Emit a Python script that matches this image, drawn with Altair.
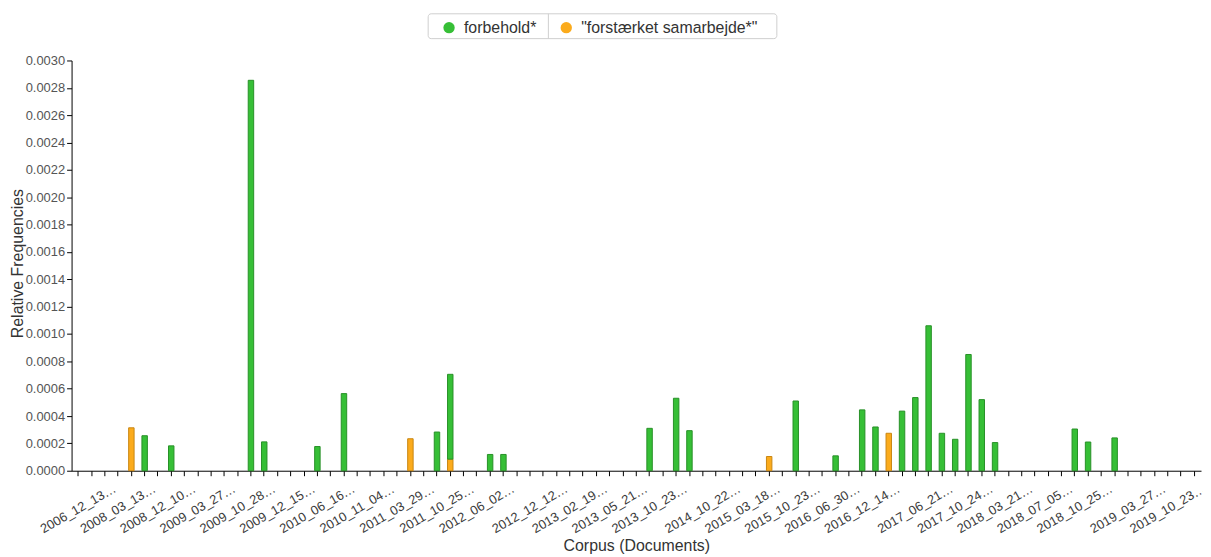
import altair as alt
import pandas as pd

# ---------------- data ----------------
n_docs = 85
doc_ids = list(range(n_docs))

tick_positions = [0, 3, 6, 9, 12, 15, 18, 21, 24, 27, 30, 34, 37, 40, 43,
                  47, 50, 53, 56, 59, 63, 66, 69, 72, 75, 79, 82]
tick_texts = ["2006_12_13…", "2008_03_13…", "2008_12_10…", "2009_03_27…",
              "2009_10_28…", "2009_12_15…", "2010_06_16…", "2010_11_04…",
              "2011_03_29…", "2011_10_25…", "2012_06_02…", "2012_12_12…",
              "2013_02_19…", "2013_05_21…", "2013_10_23…", "2014_10_22…",
              "2015_03_18…", "2015_10_23…", "2016_06_30…", "2016_12_14…",
              "2017_06_21…", "2017_10_24…", "2018_03_21…", "2018_07_05…",
              "2018_10_25…", "2019_03_27…", "2019_10_23…"]

series_names = ["forbehold*", "\"forstærket samarbejde*\""]
fill_colors = ["#36bf36", "#fbab1c"]
stroke_colors = ["#279027", "#c98612"]

forbehold = [
    0, 0, 0, 0, 0, 0.000256, 0, 0.000182, 0, 0,
    0, 0, 0, 0.002855, 0.000211, 0, 0, 0, 0.000177, 0,
    0.000564, 0, 0, 0, 0, 0, 0, 0.000283, 0.00062, 0,
    0, 0.000119, 0.000119, 0, 0, 0, 0, 0, 0, 0,
    0, 0, 0, 0.00031, 0, 0.00053, 0.000293, 0, 0, 0,
    0, 0, 0, 0, 0.00051, 0, 0, 0.000109, 0, 0.000445,
    0.00032, 0, 0.000436, 0.000535, 0.00106, 0.000274, 0.00023, 0.00085, 0.00052, 0.000206,
    0, 0, 0, 0, 0, 0.000305, 0.00021, 0, 0.00024, 0,
    0, 0, 0, 0, 0,
]
forstaerket = [
    0, 0, 0, 0, 0.000314, 0, 0, 0, 0, 0,
    0, 0, 0, 0, 0, 0, 0, 0, 0, 0,
    0, 0, 0, 0, 0, 0.000234, 0, 0, 0.000085, 0,
    0, 0, 0, 0, 0, 0, 0, 0, 0, 0,
    0, 0, 0, 0, 0, 0, 0, 0, 0, 0,
    0, 0, 0.000104, 0, 0, 0, 0, 0, 0, 0,
    0, 0.000274, 0, 0, 0, 0, 0, 0, 0, 0,
    0, 0, 0, 0, 0, 0, 0, 0, 0, 0,
    0, 0, 0, 0, 0,
]

y_ticks = [0.0, 0.0002, 0.0004, 0.0006, 0.0008, 0.0010, 0.0012, 0.0014,
           0.0016, 0.0018, 0.0020, 0.0022, 0.0024, 0.0026, 0.0028, 0.0030]

# ---------------- table ----------------
rows = []
for i in doc_ids:
    if forstaerket[i] > 0:
        rows.append({"doc": i, "series": series_names[1], "value": forstaerket[i], "rank": 0})
    if forbehold[i] > 0:
        rows.append({"doc": i, "series": series_names[0], "value": forbehold[i], "rank": 1})
df = pd.DataFrame(rows)

pos_str = ",".join(str(p) for p in tick_positions)
txt_str = ",".join("'" + t + "'" for t in tick_texts)
label_expr = (f"indexof([{pos_str}], datum.value) >= 0 ? "
              f"[{txt_str}][indexof([{pos_str}], datum.value)] : ''")

FONT = "Liberation Sans"

bars = alt.Chart(df).mark_bar(strokeWidth=1).encode(
    x=alt.X("doc:O",
            scale=alt.Scale(domain=doc_ids, paddingInner=0.59, paddingOuter=0.295),
            axis=alt.Axis(title="Corpus (Documents)", labelExpr=label_expr,
                          labelAngle=-30, labelAlign="center", labelBaseline="middle",
                          labelPadding=33, tickSize=5, labelOverlap=False,
                          labelFontSize=13, labelColor="#3a3a3a", labelFont=FONT,
                          labelBound=False, labelFlush=False,
                          titleFontSize=16, titleFont=FONT, titleColor="#333",
                          titleFontWeight="normal", titleY=75, titleBaseline="middle")),
    y=alt.Y("value:Q", stack="zero",
            scale=alt.Scale(domain=[0, 0.003], nice=False),
            axis=alt.Axis(title="Relative Frequencies", values=y_ticks, format=".4f",
                          grid=False, tickSize=5, labelPadding=2,
                          labelFontSize=13, labelColor="#555", labelFont=FONT,
                          titleFontSize=16, titleFont=FONT, titleColor="#333",
                          titleFontWeight="normal", titleX=-54, titleY=204,
                          titleAngle=-90, titleBaseline="middle", titleAlign="center")),
    color=alt.Color("series:N",
                    scale=alt.Scale(domain=series_names, range=fill_colors),
                    legend=alt.Legend(title=None, orient="none", legendX=367, legendY=-46,
                                      direction="horizontal", symbolType="circle",
                                      symbolSize=130, symbolStrokeWidth=0, symbolOpacity=1,
                                      labelFontSize=16, labelFont=FONT, labelColor="#333",
                                      labelLimit=500, labelOffset=7, columnPadding=22,
                                      padding=5)),
    stroke=alt.Stroke("series:N",
                      scale=alt.Scale(domain=series_names, range=stroke_colors),
                      legend=None),
    order=alt.Order("rank:Q"),
)

decor_df = pd.DataFrame({"k": [0]})
frame = alt.Chart(decor_df).mark_rect(fillOpacity=0, stroke="#cfcfcf", strokeWidth=1,
                                      cornerRadius=3).encode(
    x=alt.value(359), x2=alt.value(710), y=alt.value(-47), y2=alt.value(-22))
divider = alt.Chart(decor_df).mark_rule(color="#cfcfcf", strokeWidth=1).encode(
    x=alt.value(480), y=alt.value(-47), y2=alt.value(-22))

chart = alt.layer(frame, divider, bars).properties(
    width=1137, height=413,
    autosize=alt.AutoSizeParams(type="none"),
    padding={"left": 64, "top": 51, "right": 2, "bottom": 84},
).configure_view(stroke=None).configure_axis(
    domainColor="#000", tickColor="#000", domainWidth=1, tickWidth=1)

chart.save("out.html", embed_options={"renderer": "svg", "actions": False})
